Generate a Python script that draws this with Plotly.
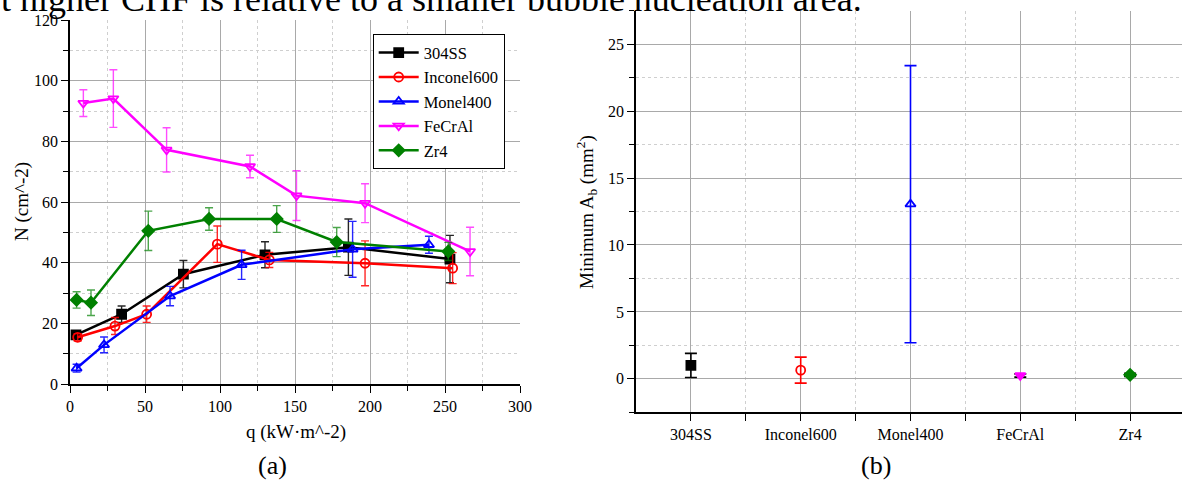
import plotly.graph_objects as go
import numpy as np

# ---------------- data: panel (a) ----------------
series_names = ["304SS", "Inconel600", "Monel400", "FeCrAl", "Zr4"]

q_304 = [4, 34.4, 75.6, 130, 185.6, 253.3]
N_304 = [16.2, 23.0, 36.2, 42.6, 45.1, 41.2]
e_304 = [1.2, 2.7, 4.5, 4.3, 9.3, 7.8]

q_inc = [5.1, 30, 51.1, 98.2, 132.9, 196.7, 255.1]
N_inc = [15.4, 19.1, 23.0, 46.1, 40.9, 39.8, 38.2]
e_inc = [1.2, 2.8, 2.7, 6.0, 2.5, 7.4, 5.1]

q_mon = [4.4, 22.7, 66.7, 114.4, 188.4, 239.3]
N_mon = [5.2, 12.9, 29.0, 39.3, 44.4, 45.9]
e_mon = [1.3, 2.6, 3.2, 4.8, 9.2, 2.8]

q_fec = [8.9, 28.9, 64.4, 120, 151, 196.7, 266.7]
N_fec = [92.6, 94.1, 77.2, 71.7, 62.1, 59.6, 43.7]
e_fec = [4.4, 9.5, 7.3, 3.7, 8.2, 6.4, 8.0]

q_zr = [4.4, 14, 52.2, 92.7, 137.8, 177.8, 252.2]
N_zr = [27.7, 26.8, 50.5, 54.4, 54.4, 46.8, 43.7]
e_zr = [2.7, 4.2, 6.5, 3.7, 4.4, 4.8, 3.0]

# ---------------- data: panel (b) ----------------
categories = ["304SS", "Inconel600", "Monel400", "FeCrAl", "Zr4"]
min_area = [1.0, 0.65, 13.05, 0.25, 0.3]
min_area_err = [0.9, 0.97, 10.35, 0.12, 0.12]

x_ticks_a = [0, 50, 100, 150, 200, 250, 300]
y_ticks_a = [0, 20, 40, 60, 80, 100, 120]
y_ticks_b = [0, 5, 10, 15, 20, 25]

# ---------------- styles ----------------
colors = ["#000000", "#ff0000", "#0000ff", "#ff00ff", "#008000"]
err_colors = ["rgba(0,0,0,0.85)", "rgba(255,0,0,0.85)", "rgba(0,0,255,0.85)",
              "rgba(255,0,255,0.7)", "rgba(0,128,0,0.7)"]
symbols = ["square", "circle-open", "triangle-up-open", "triangle-down-open", "diamond"]
b_symbols = ["square", "circle-open", "triangle-up-open", "triangle-down", "diamond"]
b_err_colors = ["#000000", "#ff0000", "#0000ff", "#000000", "#000000"]

W, H = 1182, 482
FONT = "Liberation Serif"

def px_x(p):
    return p / W

def px_y(p):
    return 1 - p / H

fig = go.Figure()

qs = [q_304, q_inc, q_mon, q_fec, q_zr]
Ns = [N_304, N_inc, N_mon, N_fec, N_zr]
es = [e_304, e_inc, e_mon, e_fec, e_zr]

for i, name in enumerate(series_names):
    fig.add_trace(go.Scatter(
        x=qs[i], y=Ns[i], name=name, mode="lines+markers",
        line=dict(color=colors[i], width=2.5),
        marker=dict(symbol=symbols[i], size=9, color=colors[i],
                    line=dict(color=colors[i], width=1.8)),
        error_y=dict(type="data", array=es[i], color=err_colors[i],
                     thickness=1.4, width=4),
        xaxis="x", yaxis="y",
    ))

xb = list(np.arange(1, len(categories) + 1))
for i, cat in enumerate(categories):
    fig.add_trace(go.Scatter(
        x=[xb[i]], y=[min_area[i]], name=cat, mode="markers", showlegend=False,
        marker=dict(symbol=b_symbols[i], size=9, color=colors[i],
                    line=dict(color=colors[i], width=1.8)),
        error_y=dict(type="data", array=[min_area_err[i]], color=b_err_colors[i],
                     thickness=1.6, width=6),
        xaxis="x2", yaxis="y2",
    ))

grid_major = "#a9a9a9"
grid_minor = "#cfcfcf"

dom_xa = [px_x(70), px_x(520)]
dom_ya = [px_y(384), px_y(20)]
dom_xb = [px_x(636), 1.0]
dom_yb = [px_y(412.3), px_y(10.7)]
rng_xb = [0.5, 5 + (1182 - 1130) / 110.0]

tickfont = dict(family=FONT, size=16, color="black")

common = dict(showline=True, linecolor="black", linewidth=1.6,
              ticks="outside", tickcolor="black", tickwidth=1.4, ticklen=7,
              tickfont=tickfont, zeroline=False, automargin=False,
              showgrid=True, gridcolor=grid_major, gridwidth=1)

fig.update_layout(
    width=W, height=H,
    margin=dict(l=0, r=0, t=0, b=0),
    paper_bgcolor="white", plot_bgcolor="white",
    font=dict(family=FONT, color="black"),
    xaxis=dict(domain=dom_xa, range=[0, 300], tickvals=x_ticks_a, anchor="y",
               minor=dict(dtick=25, tick0=0, showgrid=True, gridcolor=grid_minor,
                          griddash="dot", ticks="outside", ticklen=5,
                          tickcolor="black", tickwidth=1.2),
               **common),
    yaxis=dict(domain=dom_ya, range=[0, 120], tickvals=y_ticks_a, anchor="x",
               minor=dict(dtick=10, tick0=0, showgrid=True, gridcolor=grid_minor,
                          griddash="dot", ticks="outside", ticklen=5,
                          tickcolor="black", tickwidth=1.2),
               **common),
    xaxis3=dict(overlaying="x", anchor="y", side="top", range=[0, 300],
                tickvals=x_ticks_a, showticklabels=False, showgrid=False,
                showline=True, linecolor="black", linewidth=1.6, zeroline=False,
                ticks="inside", ticklen=7, tickwidth=1.4, tickcolor="black",
                minor=dict(dtick=25, tick0=0, ticks="inside", ticklen=5,
                           tickcolor="black", tickwidth=1.2, showgrid=False)),
    yaxis3=dict(overlaying="y", anchor="x", side="right", range=[0, 120],
                tickvals=y_ticks_a, showticklabels=False, showgrid=False,
                showline=True, linecolor="black", linewidth=1.6, zeroline=False,
                ticks="inside", ticklen=7, tickwidth=1.4, tickcolor="black",
                minor=dict(dtick=10, tick0=0, ticks="inside", ticklen=5,
                           tickcolor="black", tickwidth=1.2, showgrid=False)),
    xaxis2=dict(domain=dom_xb, range=rng_xb, tickvals=xb, ticktext=categories,
                anchor="y2",
                minor=dict(tickvals=[1.5, 2.5, 3.5, 4.5], showgrid=True,
                           gridcolor=grid_minor, griddash="dot", ticks="outside",
                           ticklen=7, tickcolor="black", tickwidth=1.4),
                **common),
    yaxis2=dict(domain=dom_yb, range=[-2.5, 27.5], tickvals=y_ticks_b, anchor="x2",
                minor=dict(dtick=2.5, tick0=0, showgrid=True, gridcolor=grid_minor,
                           griddash="dot", ticks="outside", ticklen=5,
                           tickcolor="black", tickwidth=1.2),
                **common),
    xaxis4=dict(overlaying="x2", anchor="y2", side="top", range=rng_xb,
                tickvals=xb, showticklabels=False, showgrid=False,
                showline=True, linecolor="black", linewidth=1.6, zeroline=False,
                ticks="inside", ticklen=7, tickwidth=1.4, tickcolor="black",
                minor=dict(tickvals=[1.5, 2.5, 3.5, 4.5], ticks="inside", ticklen=7,
                           tickcolor="black", tickwidth=1.4, showgrid=False)),
    yaxis4=dict(overlaying="y2", anchor="x2", side="right", range=[-2.5, 27.5],
                tickvals=y_ticks_b, showticklabels=False, showgrid=False,
                showline=False, zeroline=False,
                ticks="inside", ticklen=7, tickwidth=1.4, tickcolor="black",
                minor=dict(dtick=2.5, tick0=0, ticks="inside", ticklen=4,
                           tickcolor="black", tickwidth=1.2, showgrid=False)),
    legend=dict(x=px_x(372.7), y=px_y(34.3), xanchor="left", yanchor="top",
                bgcolor="white", bordercolor="black", borderwidth=1,
                font=dict(family=FONT, size=16.5, color="black"),
                itemwidth=40, tracegroupgap=0),
    showlegend=True,
)

annotations = [
    dict(text="t higher CHF is relative to a smaller bubble nucleation area.",
         x=px_x(-1), y=px_y(-1.5), xanchor="left", yanchor="middle",
         font=dict(family=FONT, size=36)),
    dict(text="(a)", x=px_x(272), y=px_y(465), xanchor="center", yanchor="middle",
         font=dict(family=FONT, size=26)),
    dict(text="(b)", x=px_x(876), y=px_y(465), xanchor="center", yanchor="middle",
         font=dict(family=FONT, size=26)),
    dict(text="q (kW·m^-2)", x=px_x(296), y=px_y(432), xanchor="center",
         yanchor="middle", font=dict(family=FONT, size=19)),
    dict(text="N (cm^-2)", x=px_x(22), y=px_y(202), xanchor="center",
         yanchor="middle", textangle=-90, font=dict(family=FONT, size=19)),
    dict(text="Minimum A<sub>b</sub> (mm<sup>2</sup>)", x=px_x(586), y=px_y(212),
         xanchor="center", yanchor="middle", textangle=-90,
         font=dict(family=FONT, size=19)),
]
for a in annotations:
    a.update(xref="paper", yref="paper", showarrow=False)
fig.update_layout(annotations=annotations)

fig.write_html("out.html")
